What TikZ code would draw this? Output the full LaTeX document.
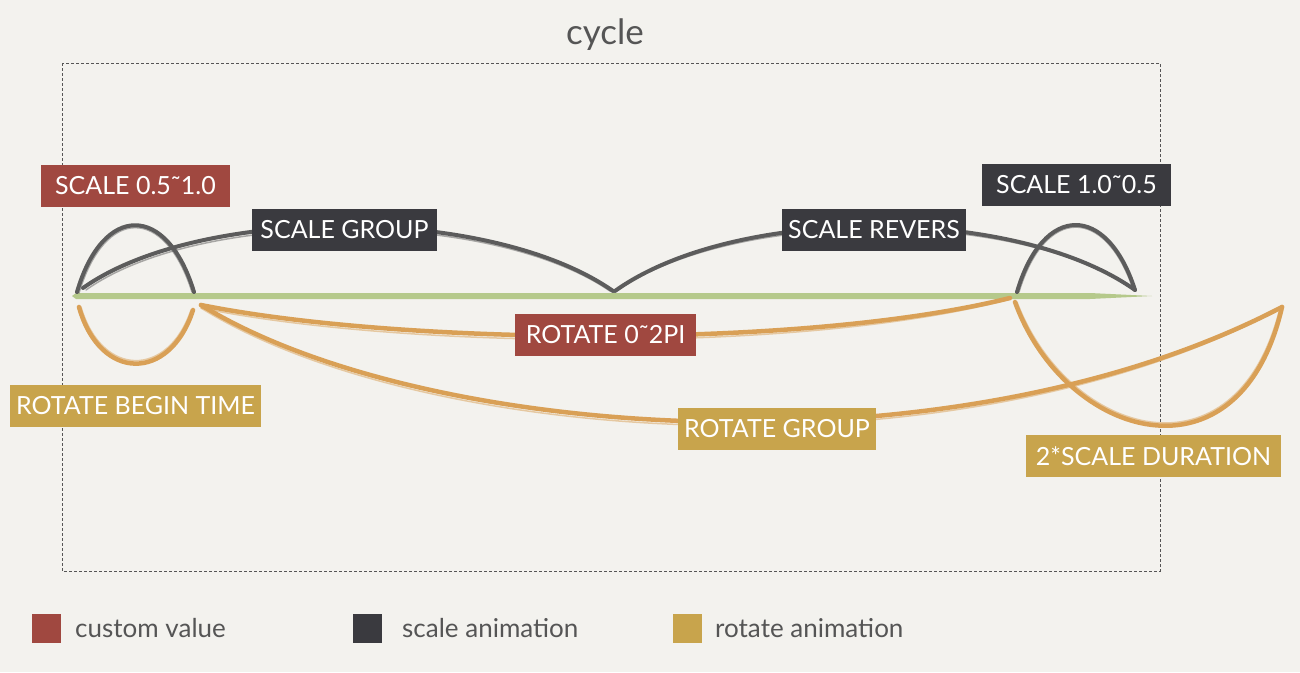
\documentclass[tikz,border=0pt]{standalone}
\usepackage{fontspec}
\setmainfont{Lato}
\definecolor{bgc}{RGB}{243,242,238}
\definecolor{cvalc}{RGB}{160,72,64}
\definecolor{sanimc}{RGB}{58,58,63}
\definecolor{ranimc}{RGB}{200,164,76}
\definecolor{strokeg}{RGB}{92,92,92}
\definecolor{strokeo}{RGB}{217,160,86}
\definecolor{greenl}{RGB}{181,201,139}
\definecolor{txtg}{RGB}{85,85,85}
\tikzset{
  lbl/.style={text=white, font=\fontsize{25}{29}\selectfont, minimum height=42pt, inner sep=0pt, anchor=center},
  cval/.style={fill=cvalc},
  sanim/.style={fill=sanimc},
  ranim/.style={fill=ranimc},
  brushg/.style={draw=strokeg, line width=4pt, line cap=round},
  brusho/.style={draw=strokeo, line width=4.5pt, line cap=round},
  fuzzg/.style={draw=strokeg, line width=1.5pt, line cap=round, opacity=0.5},
  fuzzo/.style={draw=strokeo, line width=1.5pt, line cap=round, opacity=0.5},
  legbox/.style={minimum size=29pt, inner sep=0pt},
  legtxt/.style={text=txtg, font=\fontsize{26}{30}\selectfont, anchor=west, inner sep=0pt},
}
\begin{document}
\begin{tikzpicture}[x=1pt,y=-1pt]
\fill[bgc] (0,0) rectangle (1300,672);
\useasboundingbox (0,0) rectangle (1300,672);

% title and frame
\node[text=txtg, font=\fontsize{35}{40}\selectfont] (title) at (605,35) {cycle};
\coordinate (frameA) at (62,63);
\coordinate (frameB) at (1160,571);
\draw[txtg, line width=0.9pt, dash pattern=on 3pt off 2pt] (frameA) rectangle (frameB);

% coordinates
\coordinate (h1a) at (77,292);
\coordinate (h1b) at (194,292);
\coordinate (g1a) at (83,288);
\coordinate (g1b) at (613,291);
\coordinate (g2a) at (615,291);
\coordinate (g2b) at (1135,290);
\coordinate (h2a) at (1017,292);
\coordinate (h2b) at (1135,290);
\coordinate (d1a) at (79,307);
\coordinate (d1b) at (193,310);
\coordinate (o1a) at (201,305);
\coordinate (o1b) at (1010,298);
\coordinate (o2b) at (1282,307);
\coordinate (d2a) at (1015,302);

% green timeline
\coordinate (gl0) at (72,296);
\coordinate (gl1) at (1152,296);
\fill[greenl] (gl0) -- ++(4,-3) -- (1090,293) -- (gl1) -- (1090,299) -- (76,299) -- cycle;

% gray strokes
\draw[brushg] (h1a) .. controls (103,203) and (167,203) .. (h1b);
\draw[fuzzg] ([shift={(2,1)}]h1a) .. controls (105,206) and (165,206) .. ([shift={(-2,0)}]h1b);
\draw[brushg] (g1a) .. controls (200,205) and (490,205) .. (g1b);
\draw[fuzzg] ([shift={(3,2)}]g1a) .. controls (200,209) and (490,209) .. ([shift={(-3,0)}]g1b);
\draw[brushg] (g2a) .. controls (735,205) and (1015,205) .. (g2b);
\draw[fuzzg] ([shift={(3,-1)}]g2a) .. controls (735,209) and (1015,209) .. ([shift={(-3,-2)}]g2b);
\draw[brushg] (h2a) .. controls (1043,203) and (1107,203) .. (h2b);
\draw[fuzzg] ([shift={(2,0)}]h2a) .. controls (1045,206) and (1105,206) .. ([shift={(-2,-1)}]h2b);

% orange strokes
\draw[brusho] (d1a) .. controls (100,382) and (170,382) .. (d1b);
\draw[fuzzo] ([shift={(2,0)}]d1a) .. controls (102,378) and (168,378) .. ([shift={(-2,0)}]d1b);
\draw[brusho] (o1a) .. controls (400,345) and (800,350) .. (o1b);
\draw[fuzzo] ([shift={(0,3)}]o1a) .. controls (400,349) and (800,354) .. ([shift={(-3,2)}]o1b);
\draw[brusho] (o1a) .. controls (420,440) and (950,480) .. (o2b);
\draw[fuzzo] ([shift={(0,3)}]o1a) .. controls (420,444) and (950,484) .. ([shift={(-2,2)}]o2b);
\draw[brusho] (d2a) .. controls (1065,440) and (1240,490) .. (o2b);
\draw[fuzzo] ([shift={(2,0)}]d2a) .. controls (1068,436) and (1236,486) .. ([shift={(-2,1)}]o2b);

% labels
\node[lbl, cval, minimum width=189pt] (s05) at (135.5,185.5) {SCALE 0.5˜1.0};
\node[lbl, sanim, minimum width=185pt] (sgroup) at (344.5,230) {SCALE GROUP};
\node[lbl, ranim, minimum width=251pt] (rbegin) at (135.5,405.5) {ROTATE BEGIN TIME};
\node[lbl, cval, minimum width=181pt] (r2pi) at (605.5,335) {ROTATE 0˜2PI};
\node[lbl, ranim, minimum width=198pt] (rgroup) at (777,428.5) {ROTATE GROUP};
\node[lbl, sanim, minimum width=184pt] (srev) at (874,230) {SCALE REVERS};
\node[lbl, sanim, minimum width=189pt] (s10) at (1076.5,185) {SCALE 1.0˜0.5};
\node[lbl, ranim, minimum width=255pt] (sdur) at (1153.5,456) {2*SCALE DURATION};

% legend
\node[legbox, fill=cvalc] (lg1) at (46.5,628.5) {};
\node[legtxt] (lt1) at (75,628) {custom value};
\node[legbox, fill=sanimc] (lg2) at (367,628.5) {};
\node[legtxt] (lt2) at (402,628) {scale animation};
\node[legbox, fill=ranimc] (lg3) at (687.5,628.5) {};
\node[legtxt] (lt3) at (715,628) {rotate animation};
\end{tikzpicture}
\end{document}
